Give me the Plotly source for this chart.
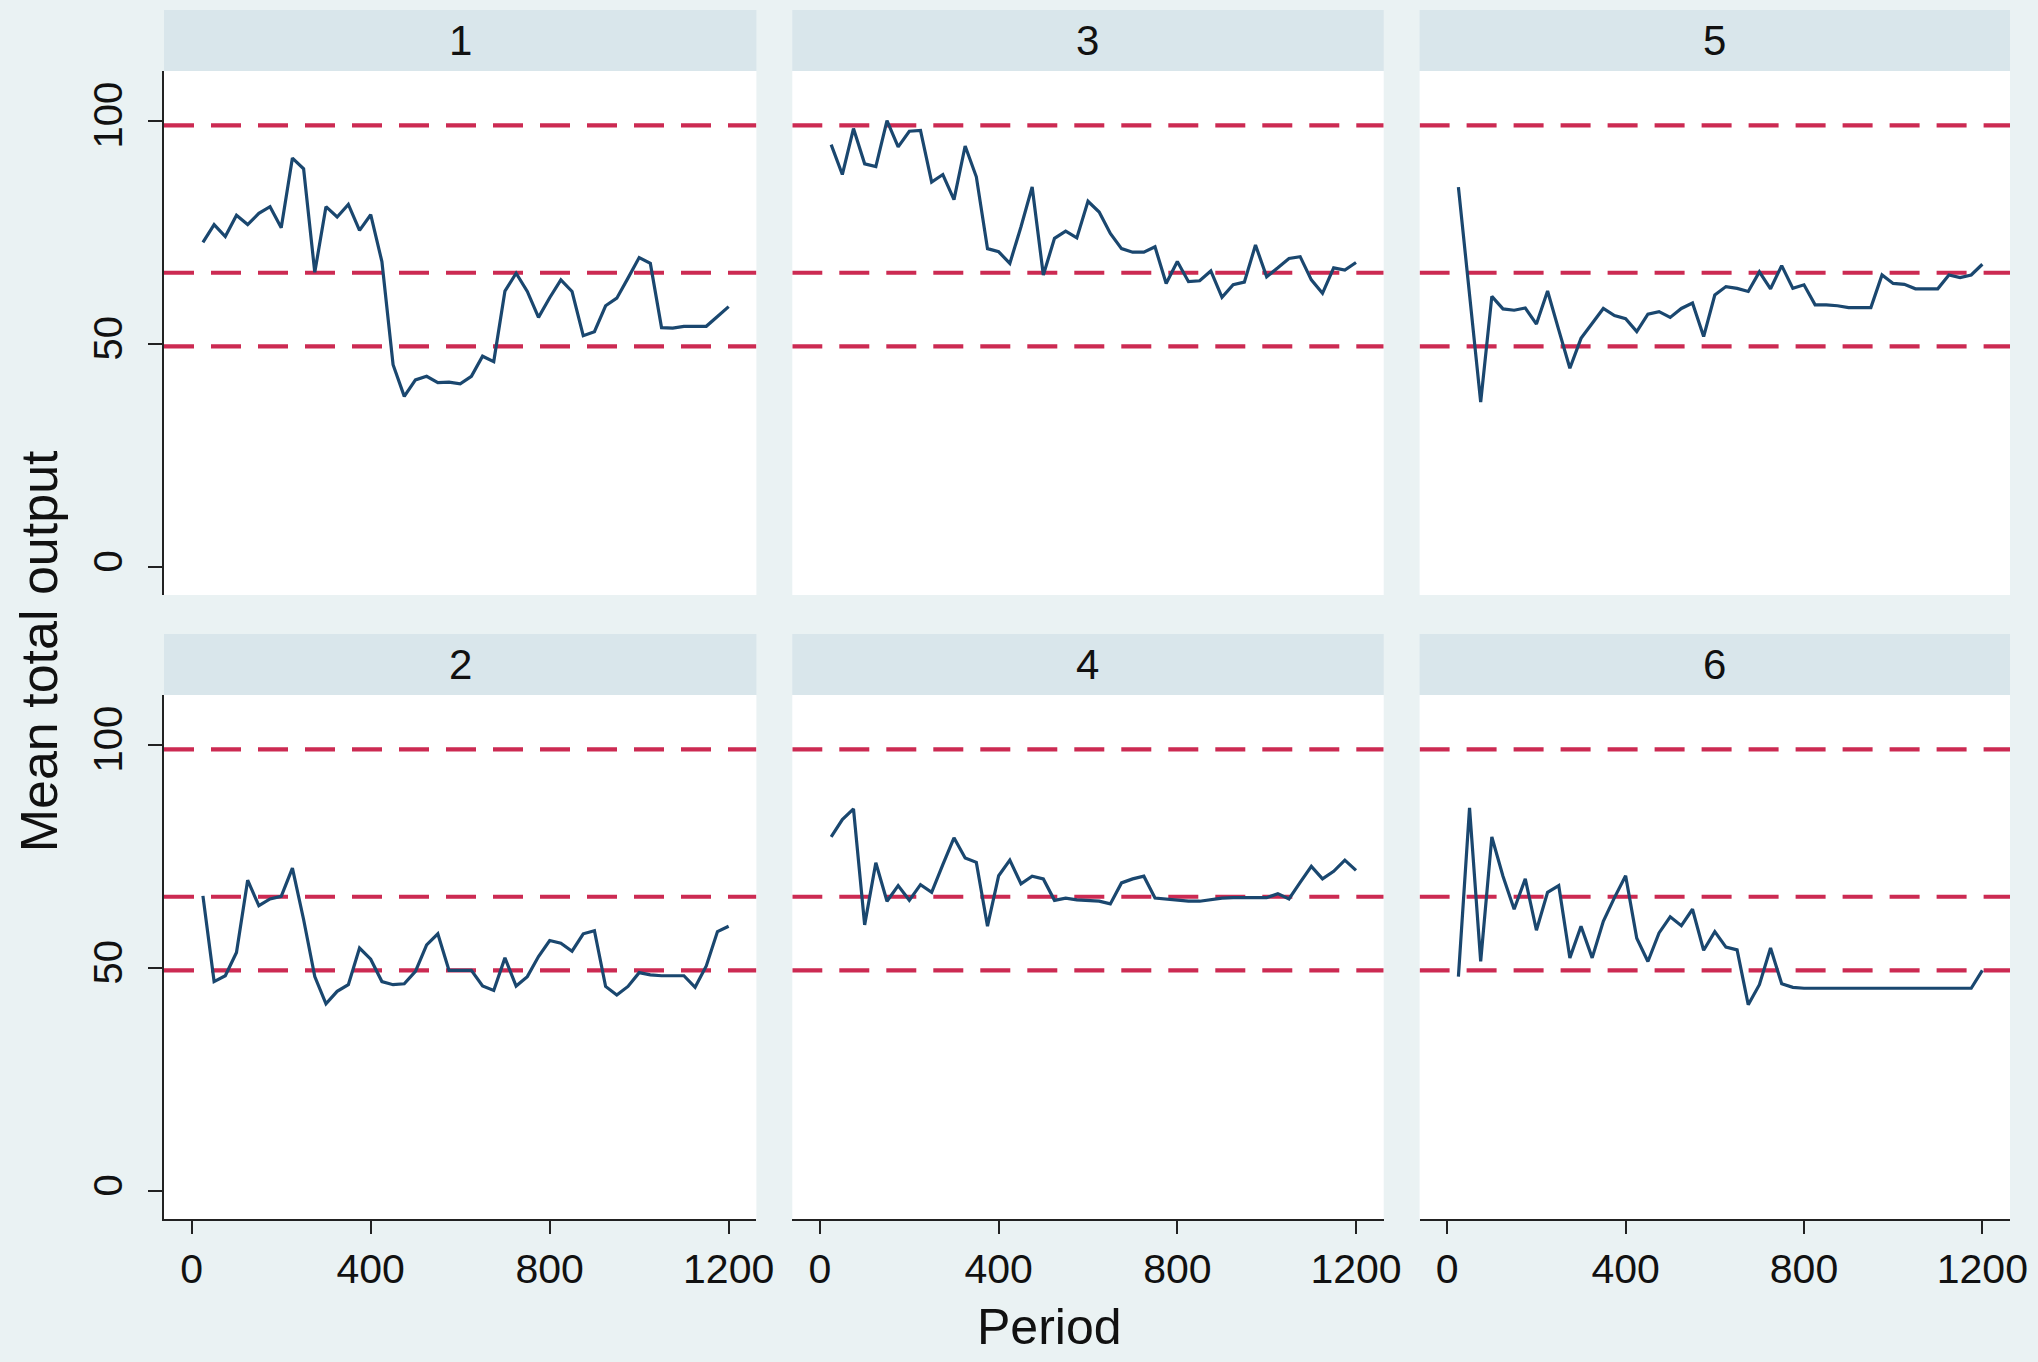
import plotly.graph_objects as go

# ---------------- data ----------------
periods = [25, 50, 75, 100, 125, 150, 175, 200, 225, 250, 275, 300,
           325, 350, 375, 400, 425, 450, 475, 500, 525, 550, 575, 600,
           625, 650, 675, 700, 725, 750, 775, 800, 825, 850, 875, 900,
           925, 950, 975, 1000, 1025, 1050, 1075, 1100, 1125, 1150, 1175, 1200]

panel_labels = ["1", "3", "5", "2", "4", "6"]

output_1 = [72.8, 76.8, 74.1, 78.9, 76.8, 79.3, 80.8, 76.1, 91.7, 89.3, 66.1, 80.8,
            78.5, 81.3, 75.5, 79.0, 68.5, 45.4, 38.3, 42.0, 42.8, 41.4, 41.5, 41.1,
            42.8, 47.3, 46.1, 61.9, 65.9, 61.8, 56.0, 60.4, 64.4, 61.8, 51.9, 52.8,
            58.6, 60.3, 64.8, 69.4, 68.1, 53.7, 53.6, 54.0, 54.0, 54.0, 56.2, 58.4]

output_3 = [94.7, 88.0, 98.3, 90.4, 89.8, 100.1, 94.2, 97.7, 97.9, 86.3, 88.0, 82.4,
            94.4, 87.5, 71.4, 70.7, 68.1, 76.3, 85.2, 65.5, 73.7, 75.3, 73.8, 82.0,
            79.6, 74.8, 71.4, 70.6, 70.6, 71.8, 63.6, 68.5, 64.0, 64.2, 66.4, 60.5,
            63.3, 63.9, 72.2, 65.1, 67.1, 69.2, 69.6, 64.4, 61.4, 67.1, 66.6, 68.3]

output_5 = [85.2, 61.0, 37.0, 60.7, 57.9, 57.6, 58.1, 54.5, 61.9, 53.2, 44.6, 51.3,
            54.7, 58.0, 56.4, 55.7, 52.8, 56.7, 57.3, 56.0, 58.0, 59.2, 51.7, 61.0,
            62.9, 62.5, 61.8, 66.2, 62.4, 67.6, 62.5, 63.3, 58.8, 58.8, 58.6, 58.2,
            58.2, 58.2, 65.5, 63.6, 63.4, 62.4, 62.4, 62.4, 65.5, 64.9, 65.5, 67.9]

output_2 = [66.2, 47.0, 48.3, 53.5, 69.7, 64.0, 65.5, 66.1, 72.4, 60.9, 48.1, 42.0,
            44.8, 46.3, 54.5, 52.0, 47.0, 46.3, 46.5, 49.3, 55.2, 57.7, 49.5, 49.5,
            49.5, 46.0, 45.0, 52.3, 46.0, 48.1, 52.6, 56.2, 55.6, 53.8, 57.7, 58.4,
            45.9, 44.0, 45.9, 49.0, 48.5, 48.3, 48.3, 48.3, 45.7, 50.5, 58.2, 59.4]

output_4 = [79.4, 83.3, 85.7, 59.7, 73.6, 65.0, 68.5, 65.2, 68.7, 67.0, 73.2, 79.2,
            74.7, 73.7, 59.4, 70.7, 74.2, 68.9, 70.6, 70.0, 65.2, 65.7, 65.3, 65.2,
            65.0, 64.4, 69.1, 70.0, 70.6, 65.7, 65.5, 65.3, 65.0, 65.0, 65.3, 65.7,
            65.8, 65.8, 65.8, 65.8, 66.7, 65.5, 69.2, 72.8, 70.0, 71.7, 74.2, 71.9]

output_6 = [48.1, 85.9, 51.5, 79.4, 70.6, 63.2, 70.0, 58.5, 67.0, 68.5, 52.3, 59.4,
            52.3, 60.5, 65.8, 70.7, 56.7, 51.5, 57.9, 61.5, 59.5, 63.2, 54.0, 58.2,
            54.7, 54.1, 41.8, 46.3, 54.5, 46.5, 45.7, 45.5, 45.5, 45.5, 45.5, 45.5,
            45.5, 45.5, 45.5, 45.5, 45.5, 45.5, 45.5, 45.5, 45.5, 45.5, 45.5, 49.5]

reference_levels = [99.0, 66.0, 49.5]

x_ticks = [0, 400, 800, 1200]
y_ticks = [0, 50, 100]

series = [output_1, output_3, output_5, output_2, output_4, output_6]

# ---------------- styling ----------------
W, H = 2038, 1362
BG = "#EAF2F3"
STRIP = "#D9E6EB"
LINE = "#1A476F"
REF = "#CC2A52"
AXIS = "#222222"
FONT = "Liberation Sans, Arial, sans-serif"

L, R, T, B = 164, 23, 10, 143
pw = W - L - R
ph = H - T - B


def px_x(p):
    return (p - L) / pw


def px_y(p):
    return (H - B - p) / ph


col_px = [(164, 758), (794, 1387), (1423, 2015)]
row_plot_px = [(71, 595), (695, 1219)]
row_strip_px = [(10, 71), (634, 695)]

x_range = [-62, 1262]
y_range = [-6.2, 111.2]

fig = go.Figure()
layout = {}
shapes = []
annotations = []

for i, (lab, vals) in enumerate(zip(panel_labels, series)):
    r, c = divmod(i, 3)
    n = i + 1
    xa = "xaxis" if n == 1 else f"xaxis{n}"
    ya = "yaxis" if n == 1 else f"yaxis{n}"
    xr = "x" if n == 1 else f"x{n}"
    yr = "y" if n == 1 else f"y{n}"

    x0, x1 = col_px[c]
    t0, t1 = row_plot_px[r]
    layout[xa] = dict(
        domain=[px_x(x0), px_x(x1)], range=x_range, anchor=yr,
        showgrid=False, zeroline=False,
        showline=(r == 1), linecolor=AXIS, linewidth=1.6,
        ticks="outside" if r == 1 else "", ticklen=13, tickwidth=1.6, tickcolor=AXIS,
        tickvals=x_ticks, showticklabels=(r == 1),
        tickfont=dict(family=FONT, size=41, color="#111"),
        ticklabelstandoff=0,
    )
    layout[ya] = dict(
        domain=[px_y(t1), px_y(t0)], range=y_range, anchor=xr,
        showgrid=False, zeroline=False,
        showline=(c == 0), linecolor=AXIS, linewidth=1.6,
        ticks="outside" if c == 0 else "", ticklen=14, tickwidth=1.6, tickcolor=AXIS,
        tickvals=y_ticks, showticklabels=(c == 0), tickangle=-90,
        tickfont=dict(family=FONT, size=40, color="#111"),
        ticklabelstandoff=10,
    )

    # reference dashed lines
    for lv in reference_levels:
        fig.add_trace(go.Scatter(
            x=[x_range[0], x_range[1]], y=[lv, lv], mode="lines",
            line=dict(color=REF, width=4.2, dash="30px,17px"),
            xaxis=xr, yaxis=yr, showlegend=False, hoverinfo="skip"))

    fig.add_trace(go.Scatter(
        x=periods, y=vals, mode="lines",
        line=dict(color=LINE, width=3.2),
        xaxis=xr, yaxis=yr, showlegend=False, name=f"Panel {lab}"))

    # strip
    s0, s1 = row_strip_px[r]
    shapes.append(dict(type="rect", xref="paper", yref="paper",
                       x0=px_x(x0), x1=px_x(x1), y0=px_y(s1), y1=px_y(s0),
                       fillcolor=STRIP, line=dict(width=0), layer="below"))
    annotations.append(dict(text=lab, xref="paper", yref="paper",
                            x=(px_x(x0) + px_x(x1)) / 2, y=(px_y(s1) + px_y(s0)) / 2,
                            xanchor="center", yanchor="middle", showarrow=False,
                            font=dict(family=FONT, size=42, color="#111")))

annotations.append(dict(text="Mean total output", xref="paper", yref="paper",
                        x=px_x(39), y=px_y(651), textangle=-90,
                        xanchor="center", yanchor="middle", showarrow=False,
                        font=dict(family=FONT, size=52, color="#111")))
annotations.append(dict(text="Period", xref="paper", yref="paper",
                        x=px_x(1052), y=px_y(1327),
                        xanchor="center", yanchor="middle", showarrow=False,
                        font=dict(family=FONT, size=50, color="#111")))

fig.update_layout(
    width=W, height=H,
    margin=dict(l=L, r=R, t=T, b=B),
    paper_bgcolor=BG, plot_bgcolor="white",
    shapes=shapes, annotations=annotations,
    showlegend=False,
    **layout,
)

fig.write_html("out.html")
